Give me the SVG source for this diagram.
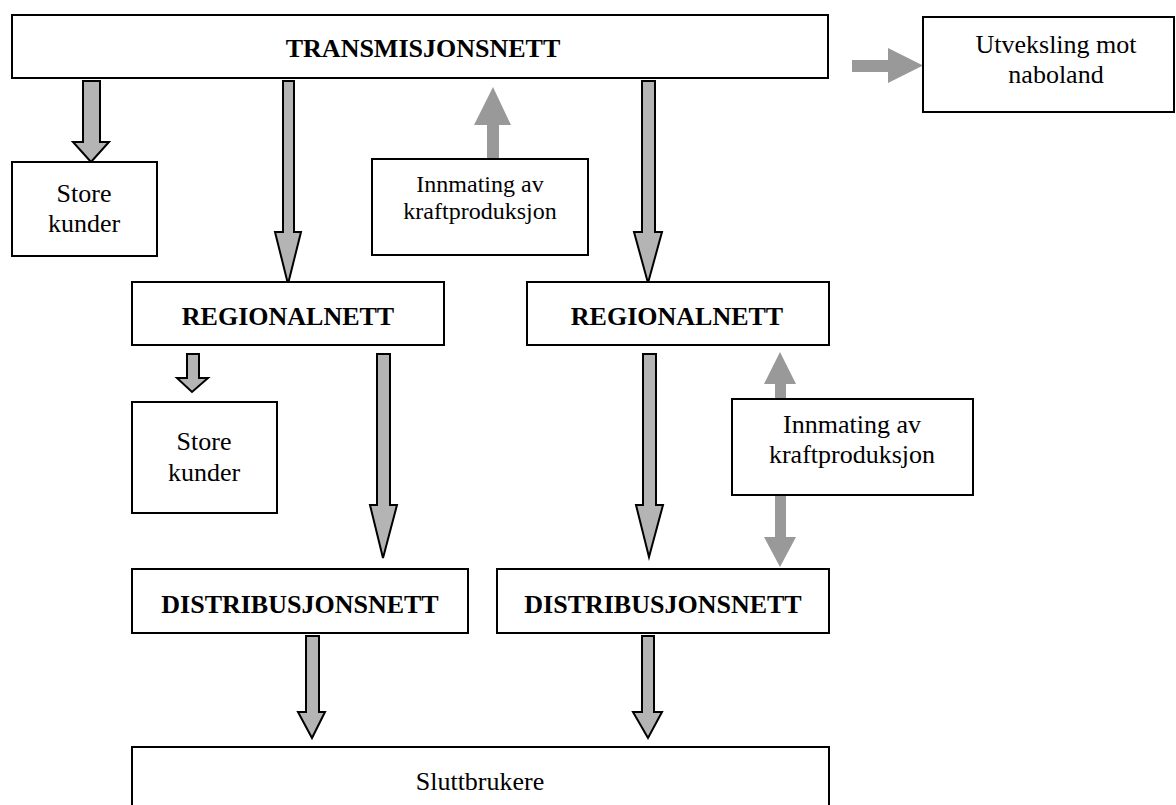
<svg xmlns="http://www.w3.org/2000/svg" width="1176" height="805" viewBox="0 0 1176 805">
<style>
.box{fill:#fff;stroke:#000;stroke-width:2}
.t{font-family:"Liberation Serif","Times New Roman",serif;font-size:26px;fill:#000;text-anchor:middle}
.b{font-weight:bold}
.s{font-size:24px}
.oa{fill:#b4b4b4;stroke:#000;stroke-width:2;stroke-linejoin:miter}
.ga{fill:#999;stroke:none}
</style>
<rect width="1176" height="805" fill="#fff"/>
<g id="connectors">
<polygon class="oa" points="83,81 100,81 100,142 109,142 91,162 73,142 83,142"/>
<polygon class="oa" points="283,81 294,81 294,232 301,232 288,284 275,232 283,232"/>
<polygon class="oa" points="642,81 655,81 655,232 662,232 648,283 634,232 642,232"/>
<polygon class="oa" points="187,354 199,354 199,378 208,378 192,392 177,378 187,378"/>
<polygon class="oa" points="377,354 390,354 390,505 397,505 383,558 370,505 377,505"/>
<polygon class="oa" points="643,354 656,354 656,505 663,505 649,557 636,505 643,505"/>
<polygon class="oa" points="306,636 319,636 319,712 325,712 312,738 298,712 306,712"/>
<polygon class="oa" points="642,636 654,636 654,712 662,712 648,738 633,712 642,712"/>
<polygon class="ga" points="487,159 499,159 499,125 511,125 493,87 474,125 487,125"/>
<polygon class="ga" points="852,60 888,60 888,48 923,65.5 888,83 888,72 852,72"/>
<polygon class="ga" points="775,399 786,399 786,384 796,384 780,352 764,384 775,384"/>
<polygon class="ga" points="775,495 786,495 786,537 796,537 780,567 764,537 775,537"/>
</g>
<g id="transmisjonsnett">
<rect class="box" x="12" y="15" width="816" height="63"/>
<text class="t b" x="423" y="57">TRANSMISJONSNETT</text>
</g>
<g id="utveksling">
<rect class="box" x="923" y="17" width="251" height="95"/>
<text class="t" x="1056" y="53">Utveksling mot</text>
<text class="t" x="1056" y="83">naboland</text>
</g>
<g id="store-kunder-1">
<rect class="box" x="12" y="162" width="145" height="94"/>
<text class="t" x="84" y="202">Store</text>
<text class="t" x="84" y="232">kunder</text>
</g>
<g id="innmating-1">
<rect class="box" x="372" y="159" width="216" height="96"/>
<text class="t s" x="480" y="192">Innmating av</text>
<text class="t s" x="480" y="219">kraftproduksjon</text>
</g>
<g id="regionalnett-1">
<rect class="box" x="132" y="282" width="312" height="63"/>
<text class="t b" x="288" y="325">REGIONALNETT</text>
</g>
<g id="regionalnett-2">
<rect class="box" x="527" y="282" width="302" height="63"/>
<text class="t b" x="677" y="325">REGIONALNETT</text>
</g>
<g id="store-kunder-2">
<rect class="box" x="132" y="402" width="145" height="111"/>
<text class="t" x="204" y="450">Store</text>
<text class="t" x="204" y="481">kunder</text>
</g>
<g id="innmating-2">
<rect class="box" x="732" y="399" width="241" height="96"/>
<text class="t" x="852" y="433">Innmating av</text>
<text class="t" x="852" y="463">kraftproduksjon</text>
</g>
<g id="distribusjonsnett-1">
<rect class="box" x="132" y="569" width="336" height="64"/>
<text class="t b" x="300" y="613">DISTRIBUSJONSNETT</text>
</g>
<g id="distribusjonsnett-2">
<rect class="box" x="497" y="569" width="332" height="64"/>
<text class="t b" x="663" y="613">DISTRIBUSJONSNETT</text>
</g>
<g id="sluttbrukere">
<rect class="box" x="132" y="747" width="697" height="70"/>
<text class="t" x="480" y="790">Sluttbrukere</text>
</g>
</svg>
